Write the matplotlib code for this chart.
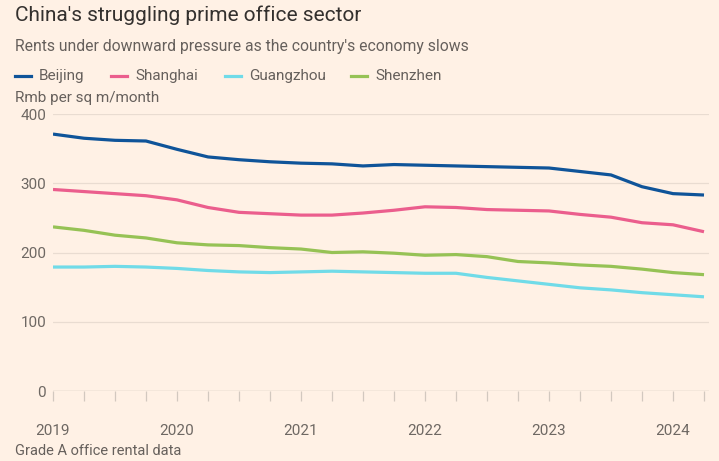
import numpy as np
import matplotlib
matplotlib.use("Agg")
import matplotlib.pyplot as plt
from matplotlib.ticker import MultipleLocator

# Quarterly Grade A office rents, 2019 Q1 - 2024 Q2 (Rmb per sq m/month)
quarters = np.arange(2019, 2024.26, 0.25)
beijing = [371, 365, 362, 361, 349, 338, 334, 331, 329, 328, 325, 327,
           326, 325, 324, 323, 322, 317, 312, 295, 285, 283]
shanghai = [291, 288, 285, 282, 276, 265, 258, 256, 254, 254, 257, 261,
            266, 265, 262, 261, 260, 255, 251, 243, 240, 230]
guangzhou = [179, 179, 180, 179, 177, 174, 172, 171, 172, 173, 172, 171,
             170, 170, 164, 159, 154, 149, 146, 142, 139, 136]
shenzhen = [237, 232, 225, 221, 214, 211, 210, 207, 205, 200, 201, 199,
            196, 197, 194, 187, 185, 182, 180, 176, 171, 168]

cities = ["Beijing", "Shanghai", "Guangzhou", "Shenzhen"]
colours = ["#0F5499", "#EB5E8D", "#70DBE8", "#96C255"]
year_ticks = [2019, 2020, 2021, 2022, 2023, 2024]
y_ticks = [0, 100, 200, 300, 400]

bg = "#FFF1E5"
plt.rcParams["font.family"] = ["Roboto", "DejaVu Sans"]

fig = plt.figure(figsize=(7.19, 4.61), dpi=100, facecolor=bg)
ax = fig.add_axes([53 / 719, 70 / 461, (709 - 53) / 719, 277 / 461])
ax.set_facecolor(bg)

for series, name, col in zip([beijing, shanghai, guangzhou, shenzhen], cities, colours):
    ax.plot(quarters, series, color=col, lw=2.3, solid_capstyle="butt",
            solid_joinstyle="round", label=name)

ax.set_xlim(2019, 2019 + (709 - 53) / 124)
ax.set_ylim(0, 400)

ax.set_yticks(y_ticks)
ax.set_xticks(year_ticks)
ax.xaxis.set_minor_locator(MultipleLocator(0.25))
for v in y_ticks[1:]:
    ax.axhline(v, color="#E9DCD1", lw=0.9, zorder=0)
ax.axhline(0, color="#C9BFB6", lw=1.0, zorder=1)

for s in ax.spines.values():
    s.set_visible(False)
ax.tick_params(axis="y", length=0, pad=5, labelsize=11, labelcolor="#6E6863")
ax.tick_params(axis="x", which="both", length=7, width=0.9, color="#D2C8BF",
               direction="out", labelsize=11, labelcolor="#6E6863", pad=17)

# titles and legend
fig.text(15 / 719, 1 - 15 / 461, "China's struggling prime office sector",
         fontsize=15, color="#33302E", va="center", ha="left")
fig.text(15 / 719, 1 - 46 / 461,
         "Rents under downward pressure as the country's economy slows",
         fontsize=11.3, color="#66605C", va="center", ha="left")

leg_x = [15, 111, 225, 351]
for lx, name, col in zip(leg_x, cities, colours):
    fig.add_artist(plt.Line2D([lx / 719, (lx + 16) / 719],
                              [1 - 76 / 461, 1 - 76 / 461],
                              color=col, lw=2.3, transform=fig.transFigure))
    fig.text((lx + 24) / 719, 1 - 76 / 461, name, fontsize=11,
             color="#66605C", va="center", ha="left")

fig.text(15 / 719, 1 - 98 / 461, "Rmb per sq m/month", fontsize=11,
         color="#66605C", va="center", ha="left")
fig.text(15 / 719, 1 - 451 / 461, "Grade A office rental data", fontsize=10.5,
         color="#66605C", va="center", ha="left")

fig.savefig("out.png", dpi=100, facecolor=bg)
